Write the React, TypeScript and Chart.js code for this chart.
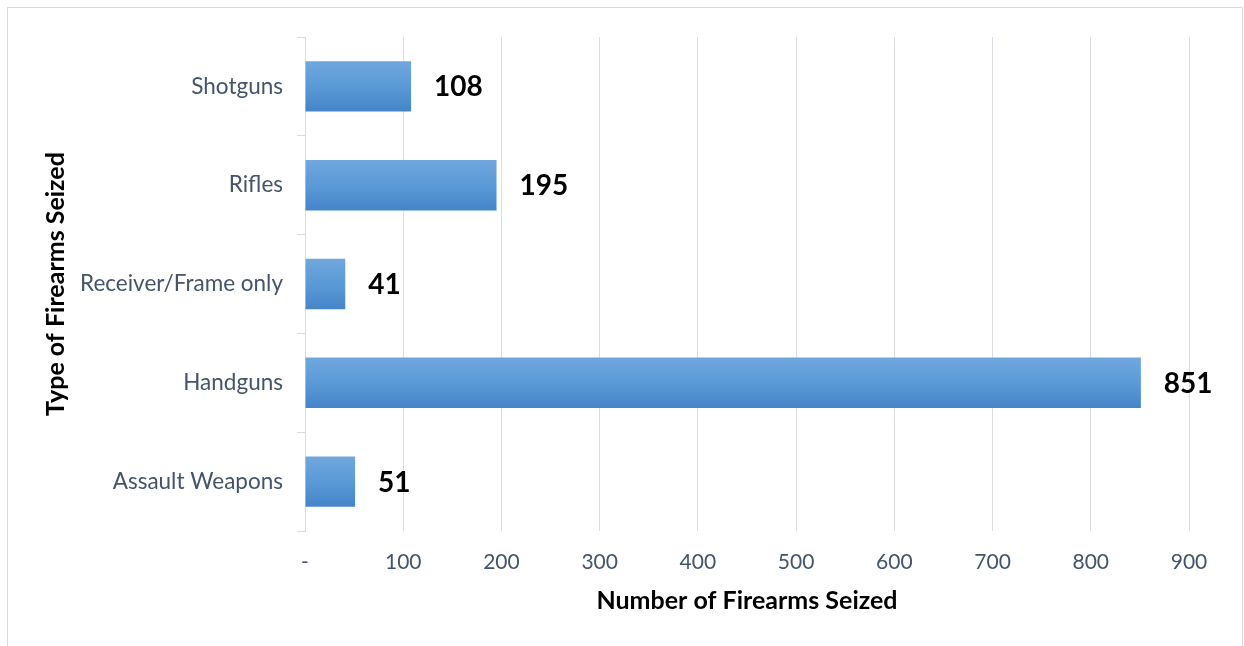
import React, { useEffect, useRef } from "react";
import { Chart, registerables } from "chart.js";

Chart.register(...registerables);

// Firearms seized by type
const categories = ["Shotguns", "Rifles", "Receiver/Frame only", "Handguns", "Assault Weapons"];
const seized = [108, 195, 41, 851, 51];
const xTickLabels = ["-", "100", "200", "300", "400", "500", "600", "700", "800", "900"];

const FONT = "Lato, 'Open Sans', sans-serif";
const TICK_COLOR = "#44546a";
const GRID_COLOR = "#d9dde3";

// Bold value labels placed just past the end of each bar
const valueLabels = {
  id: "valueLabels",
  afterDatasetsDraw(chart: any) {
    const { ctx } = chart;
    const meta = chart.getDatasetMeta(0);
    ctx.save();
    ctx.font = `bold 28px ${FONT}`;
    ctx.fillStyle = "#000000";
    ctx.textAlign = "left";
    ctx.textBaseline = "middle";
    meta.data.forEach((bar: any, i: number) => {
      ctx.fillText(String(seized[i]), bar.x + 23, bar.y + 1);
    });
    ctx.restore();
  },
};

// Thin outer frame around the chart
const outerFrame = {
  id: "outerFrame",
  beforeDraw(chart: any) {
    const { ctx } = chart;
    ctx.save();
    ctx.strokeStyle = "#d9d9d9";
    ctx.lineWidth = 1;
    ctx.strokeRect(7.5, 7.5, 1235, 700);
    ctx.restore();
  },
};

export default function App() {
  const canvasRef = useRef<HTMLCanvasElement | null>(null);

  useEffect(() => {
    const canvas = canvasRef.current;
    if (!canvas) return;

    const barFill = (c: any) => {
      const chart = c.chart;
      const y = chart.scales && chart.scales.y;
      if (!y || !chart.chartArea) return "#5b9bd5";
      const cy = y.getPixelForValue(c.dataIndex);
      const half = 25;
      const g = chart.ctx.createLinearGradient(0, cy - half, 0, cy + half);
      g.addColorStop(0, "#70a7dd");
      g.addColorStop(0.5, "#5a9ad7");
      g.addColorStop(1, "#4585c8");
      return g;
    };

    const chart = new Chart(canvas, {
      type: "bar",
      data: {
        labels: categories,
        datasets: [
          {
            data: seized,
            backgroundColor: barFill,
            borderWidth: 0,
            categoryPercentage: 1,
            barPercentage: 0.51,
          },
        ],
      },
      options: {
        indexAxis: "y",
        animation: false,
        responsive: false,
        maintainAspectRatio: false,
        layout: { padding: { left: 0, top: 37, right: 55, bottom: 0 } },
        plugins: {
          legend: { display: false },
          tooltip: { enabled: false },
        },
        scales: {
          x: {
            min: 0,
            max: 900,
            grid: {
              color: GRID_COLOR,
              lineWidth: 1,
              drawTicks: false,
            },
            border: { display: false },
            ticks: {
              stepSize: 100,
              padding: 19,
              color: TICK_COLOR,
              font: { family: FONT, size: 21 },
              callback: (_v: any, i: number) => xTickLabels[i],
            },
            title: {
              display: true,
              text: "Number of Firearms Seized",
              color: "#000000",
              font: { family: FONT, size: 25, weight: "bold" },
              padding: { top: 0, bottom: 30 },
            },
            afterFit: (scale: any) => {
              scale.height = 646 - 531;
            },
          },
          y: {
            offset: true,
            grid: {
              offset: true,
              drawOnChartArea: false,
              drawTicks: true,
              tickLength: 8,
              color: GRID_COLOR,
            },
            border: { display: true, color: GRID_COLOR, width: 1 },
            ticks: {
              padding: 14,
              color: TICK_COLOR,
              font: { family: FONT, size: 22.5 },
            },
            title: {
              display: true,
              text: "Type of Firearms Seized",
              color: "#000000",
              font: { family: FONT, size: 25, weight: "bold" },
              padding: { top: 41, bottom: 0 },
            },
            afterFit: (scale: any) => {
              scale.width = 305;
            },
          },
        },
      },
      plugins: [outerFrame, valueLabels],
    });

    return () => chart.destroy();
  }, []);

  return (
    <div
      style={{
        position: "fixed",
        left: 0,
        top: 0,
        width: 1244,
        height: 646,
        background: "#ffffff",
        overflow: "hidden",
      }}
    >
      <canvas ref={canvasRef} width={1244} height={646} style={{ display: "block" }} />
    </div>
  );
}
